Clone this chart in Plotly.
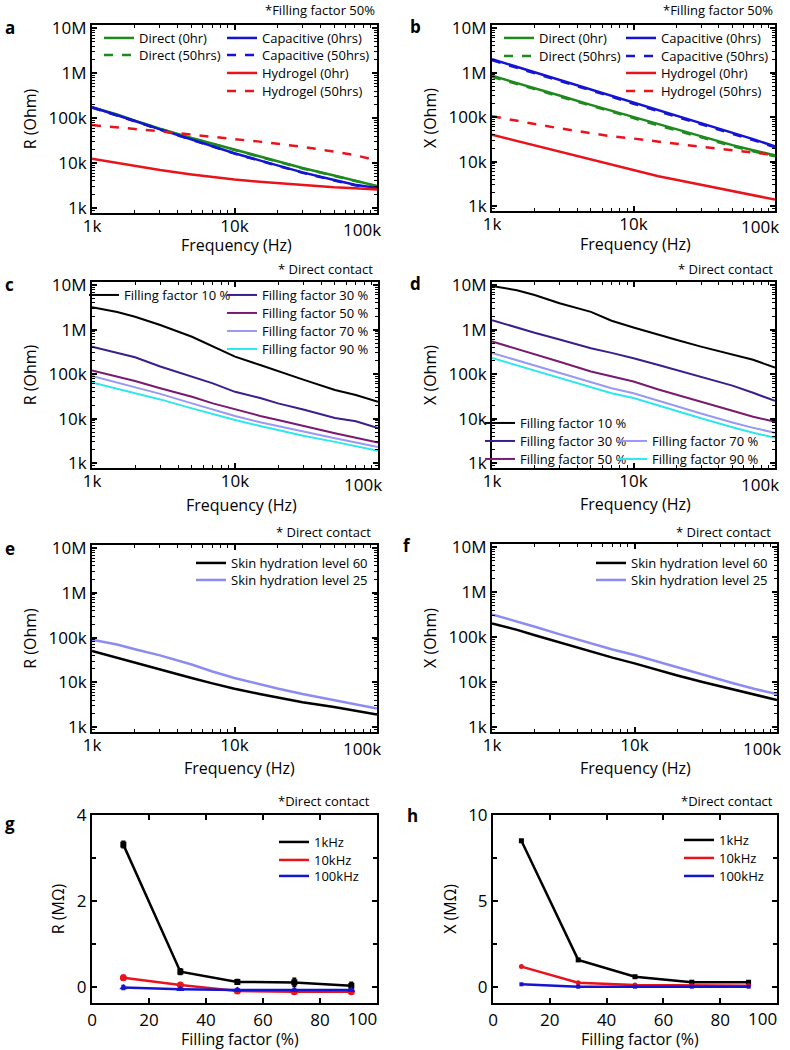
import plotly.graph_objects as go

W, H = 790, 1050
FONT = "Open Sans"

# ---------------- data ----------------
FREQ = [1000, 1500, 2000, 3000, 5000, 7000, 10000, 15000, 20000, 30000, 50000, 70000, 100000]

# panel a: R (Ohm), filling factor 50%
A_DIRECT_0 = [175e3, 120e3, 88e3, 58e3, 36e3, 27e3, 20e3, 14e3, 11e3, 7.8e3, 5.3e3, 4.1e3, 3.1e3]
A_DIRECT_50 = [170e3, 117e3, 86e3, 57e3, 35.5e3, 26.5e3, 19.6e3, 13.7e3, 10.8e3, 7.6e3, 5.2e3, 4.0e3, 3.05e3]
A_CAP_0 = [175e3, 118e3, 86e3, 56e3, 33e3, 23e3, 16.5e3, 11.5e3, 8.8e3, 6.2e3, 4.2e3, 3.3e3, 2.8e3]
A_CAP_50 = [172e3, 116e3, 85e3, 55e3, 32.5e3, 22.7e3, 16.2e3, 11.3e3, 8.7e3, 6.1e3, 4.1e3, 3.2e3, 2.7e3]
A_HYD_0 = [12.5e3, 10e3, 8.6e3, 7e3, 5.6e3, 4.9e3, 4.3e3, 3.85e3, 3.6e3, 3.2e3, 2.9e3, 2.75e3, 2.6e3]
A_HYD_50 = [70e3, 63e3, 58e3, 51e3, 43e3, 38e3, 34e3, 30e3, 27e3, 23e3, 18e3, 15e3, 11.5e3]

# panel b: X (Ohm), filling factor 50%
B_DIRECT_0 = [850e3, 590e3, 450e3, 305e3, 188e3, 138e3, 100e3, 69e3, 53e3, 37e3, 23.5e3, 18e3, 13.8e3]
B_DIRECT_50 = [800e3, 560e3, 425e3, 290e3, 178e3, 131e3, 95e3, 65e3, 50e3, 35e3, 22.3e3, 17e3, 13.2e3]
B_CAP_0 = [2.0e6, 1.35e6, 1.02e6, 0.69e6, 0.42e6, 0.3e6, 0.21e6, 0.142e6, 0.107e6, 72e3, 44e3, 32e3, 22e3]
B_CAP_50 = [1.9e6, 1.29e6, 0.97e6, 0.66e6, 0.4e6, 0.287e6, 0.2e6, 0.136e6, 0.102e6, 69e3, 42e3, 30.5e3, 21e3]
B_HYD_0 = [40e3, 29e3, 23.5e3, 17e3, 11.5e3, 8.6e3, 6.4e3, 4.7e3, 3.9e3, 3.0e3, 2.15e3, 1.75e3, 1.4e3]
B_HYD_50 = [105e3, 82e3, 70e3, 56e3, 43e3, 37e3, 33e3, 28e3, 25e3, 21.5e3, 18e3, 16e3, 14e3]

# panel c: R (Ohm) vs filling factor, direct contact
C_FF10 = [3.2e6, 2.5e6, 1.95e6, 1.27e6, 690e3, 415e3, 247e3, 160e3, 115e3, 75e3, 44e3, 34e3, 24e3]
C_FF30 = [415e3, 295e3, 240e3, 148e3, 88e3, 62e3, 40e3, 29e3, 22e3, 16e3, 10.3e3, 8.7e3, 6.1e3]
C_FF50 = [120e3, 87e3, 70e3, 48e3, 31e3, 22e3, 16e3, 11.5e3, 9.3e3, 6.8e3, 4.7e3, 3.7e3, 2.9e3]
C_FF70 = [91e3, 65e3, 52e3, 36e3, 22e3, 16e3, 11.5e3, 8.3e3, 6.8e3, 5e3, 3.6e3, 2.9e3, 2.3e3]
C_FF90 = [65e3, 47e3, 38e3, 27e3, 17e3, 12.5e3, 9.3e3, 6.8e3, 5.5e3, 4.1e3, 3e3, 2.4e3, 1.9e3]

# panel d: X (Ohm) vs filling factor, direct contact
D_FF10 = [9.5e6, 7.7e6, 6.0e6, 3.9e6, 2.5e6, 1.58e6, 1.12e6, 760e3, 590e3, 415e3, 270e3, 210e3, 140e3]
D_FF30 = [1.63e6, 1.1e6, 0.85e6, 0.6e6, 0.38e6, 0.3e6, 0.228e6, 0.16e6, 0.125e6, 88e3, 55e3, 38e3, 25e3]
D_FF50 = [540e3, 370e3, 280e3, 190e3, 115e3, 88e3, 68e3, 45e3, 35e3, 24e3, 15e3, 11e3, 8.5e3]
D_FF70 = [300e3, 205e3, 155e3, 105e3, 64e3, 48e3, 37e3, 25e3, 19e3, 13e3, 8.2e3, 6.2e3, 4.8e3]
D_FF90 = [230e3, 158e3, 120e3, 81e3, 50e3, 37e3, 29e3, 19.5e3, 15e3, 10.2e3, 6.4e3, 4.8e3, 3.7e3]

# panel e: R (Ohm) vs skin hydration
E_HYD60 = [50e3, 35e3, 28e3, 19e3, 12.5e3, 9.5e3, 7.2e3, 5.5e3, 4.6e3, 3.6e3, 2.8e3, 2.3e3, 1.9e3]
E_HYD25 = [90e3, 70e3, 55e3, 40e3, 25e3, 17.5e3, 12.5e3, 9e3, 7.3e3, 5.5e3, 4e3, 3.2e3, 2.6e3]

# panel f: X (Ohm) vs skin hydration
F_HYD60 = [200e3, 145e3, 110e3, 75e3, 47e3, 35e3, 26e3, 18e3, 14e3, 10e3, 6.8e3, 5.2e3, 4e3]
F_HYD25 = [320e3, 225e3, 170e3, 115e3, 72e3, 53e3, 40e3, 27.5e3, 21e3, 14.5e3, 9.3e3, 7e3, 5.4e3]

# panel g: R (MOhm) vs filling factor
G_FF = [11, 31, 51, 71, 91]
G_1K = [3.31, 0.35, 0.11, 0.10, 0.02]
G_1K_ERR = [0.07, 0.06, 0.05, 0.09, 0.08]
G_10K = [0.21, 0.04, -0.10, -0.12, -0.12]
G_10K_ERR = [0.05, 0.03, 0.02, 0.02, 0.02]
G_100K = [-0.02, -0.06, -0.08, -0.08, -0.08]
G_100K_ERR = [0.04, 0.02, 0.02, 0.02, 0.02]

# panel h: X (MOhm) vs filling factor
H_FF = [10, 30, 50, 70, 90]
H_1K = [8.5, 1.56, 0.58, 0.26, 0.26]
H_10K = [1.17, 0.23, 0.10, 0.06, 0.06]
H_100K = [0.14, 0.0, 0.0, 0.0, 0.0]

X_TICKVALS = [1e3, 1e4, 1e5]
X_TICKTEXT = ["1k", "10k", "100k"]
Y_TICKVALS = [1e3, 1e4, 1e5, 1e6, 1e7]
Y_TICKTEXT = ["1k", "10k", "100k", "1M", "10M"]
FF_TICKVALS = [0, 20, 40, 60, 80, 100]
FF_TICKTEXT = ["0", "20", "40", "60", "80", "100"]

GREEN = "#1e8a1e"
BLUE = "#1414d2"
RED = "#e8141c"
BLACK = "#000000"
INDIGO = "#3b1d8c"
MAGENTA = "#7a1a6e"
LAVENDER = "#9a98f0"
CYAN = "#2ee6ec"
HYD25 = "#8c8cf0"


def PX(p):
    return p / W


def PY(p):
    return 1 - p / H


# panel frames in window pixels: (left, right, top, bottom)
FRAMES = {
    1: (92, 377, 25, 213),
    2: (492, 775, 25, 211),
    3: (92, 378, 282, 468),
    4: (492, 775, 282, 468),
    5: (92, 377, 545, 732),
    6: (492, 777, 544, 732),
    7: (92, 377, 815, 1003),
    8: (493, 777, 815, 1003),
}

fig = go.Figure()
layout = {}
leg_count = [0]


def ax(n):
    return ("x" if n == 1 else f"x{n}"), ("y" if n == 1 else f"y{n}")


def new_legend(tx, ty):
    leg_count[0] += 1
    k = "legend" if leg_count[0] == 1 else f"legend{leg_count[0]}"
    layout[k] = dict(x=PX(tx - 41), y=PY(ty - 15), xanchor="left", yanchor="top",
                     bgcolor="rgba(0,0,0,0)", borderwidth=0,
                     font=dict(family=FONT, size=13, color="black"))
    return k


def add_line(n, x, y, name, color, pos, dash="solid", width=2.5):
    xa, ya = ax(n)
    fig.add_trace(go.Scatter(x=x, y=y, mode="lines", name=name, xaxis=xa, yaxis=ya,
                             line=dict(color=color, width=width, dash=dash),
                             legend=new_legend(*pos)))


# panel a
add_line(1, FREQ, A_DIRECT_0, "Direct (0hr)", GREEN, (140, 38))
add_line(1, FREQ, A_DIRECT_50, "Direct (50hrs)", GREEN, (140, 55), "dash")
add_line(1, FREQ, A_CAP_0, "Capacitive (0hrs)", BLUE, (263, 38))
add_line(1, FREQ, A_CAP_50, "Capacitive (50hrs)", BLUE, (263, 55), "dash")
add_line(1, FREQ, A_HYD_0, "Hydrogel (0hr)", RED, (263, 73))
add_line(1, FREQ, A_HYD_50, "Hydrogel (50hrs)", RED, (263, 91), "dash")

# panel b
add_line(2, FREQ, B_DIRECT_0, "Direct (0hr)", GREEN, (540, 38))
add_line(2, FREQ, B_DIRECT_50, "Direct (50hrs)", GREEN, (540, 56), "dash")
add_line(2, FREQ, B_CAP_0, "Capacitive (0hrs)", BLUE, (662, 38))
add_line(2, FREQ, B_CAP_50, "Capacitive (50hrs)", BLUE, (662, 56), "dash")
add_line(2, FREQ, B_HYD_0, "Hydrogel (0hr)", RED, (662, 73))
add_line(2, FREQ, B_HYD_50, "Hydrogel (50hrs)", RED, (662, 91), "dash")

# panel c
add_line(3, FREQ, C_FF10, "Filling factor 10 %", BLACK, (125, 295), width=2)
add_line(3, FREQ, C_FF30, "Filling factor 30 %", INDIGO, (263, 295), width=2)
add_line(3, FREQ, C_FF50, "Filling factor 50 %", MAGENTA, (263, 313), width=2)
add_line(3, FREQ, C_FF70, "Filling factor 70 %", LAVENDER, (263, 331), width=2)
add_line(3, FREQ, C_FF90, "Filling factor 90 %", CYAN, (263, 349), width=2)

# panel d
add_line(4, FREQ, D_FF10, "Filling factor 10 %", BLACK, (521, 423), width=2)
add_line(4, FREQ, D_FF30, "Filling factor 30 %", INDIGO, (521, 441), width=2)
add_line(4, FREQ, D_FF50, "Filling factor 50 %", MAGENTA, (521, 459), width=2)
add_line(4, FREQ, D_FF70, "Filling factor 70 %", LAVENDER, (653, 441), width=2)
add_line(4, FREQ, D_FF90, "Filling factor 90 %", CYAN, (653, 459), width=2)

# panel e
add_line(5, FREQ, E_HYD60, "Skin hydration level 60", BLACK, (232, 563))
add_line(5, FREQ, E_HYD25, "Skin hydration level 25", HYD25, (232, 580))

# panel f
add_line(6, FREQ, F_HYD60, "Skin hydration level 60", BLACK, (632, 563))
add_line(6, FREQ, F_HYD25, "Skin hydration level 25", HYD25, (632, 580))


def add_pts(n, x, y, err, name, color, symbol, size, pos):
    xa, ya = ax(n)
    ey = dict(type="data", array=err, color=color, thickness=2, width=2) if err else None
    fig.add_trace(go.Scatter(x=x, y=y, mode="lines+markers", name=name, xaxis=xa, yaxis=ya,
                             line=dict(color=color, width=2.5),
                             marker=dict(symbol=symbol, size=size, color=color),
                             error_y=ey, showlegend=False))
    # line-only legend entry
    fig.add_trace(go.Scatter(x=[None], y=[None], mode="lines", name=name, xaxis=xa, yaxis=ya,
                             line=dict(color=color, width=2.5), legend=new_legend(*pos)))


add_pts(7, G_FF, G_1K, G_1K_ERR, "1kHz", BLACK, "square", 6, (315, 842))
add_pts(7, G_FF, G_10K, G_10K_ERR, "10kHz", RED, "circle", 7, (315, 860))
add_pts(7, G_FF, G_100K, G_100K_ERR, "100kHz", BLUE, "triangle-up", 7, (315, 876))

add_pts(8, H_FF, H_1K, None, "1kHz", BLACK, "square", 5, (720, 840))
add_pts(8, H_FF, H_10K, None, "10kHz", RED, "circle", 5, (720, 858))
add_pts(8, H_FF, H_100K, None, "100kHz", BLUE, "square", 4, (720, 876))

# ---------------- axes ----------------
base = dict(showline=True, linecolor="black", linewidth=2, mirror="ticks",
            ticks="inside", ticklen=5, tickwidth=1.5, tickcolor="black",
            showgrid=False, zeroline=False, automargin=False, ticklabeloverflow="allow",
            tickfont=dict(family=FONT, size=17, color="black"))
minor_log = dict(ticks="inside", ticklen=3, tickwidth=1, tickcolor="black", dtick="D1", showgrid=False)
TFONT = dict(family=FONT, size=16, color="black")
TKFONT = dict(family=FONT, size=17, color="black")

ann = []
YTITLES = {1: "R (Ohm)", 2: "X (Ohm)", 3: "R (Ohm)", 4: "X (Ohm)", 5: "R (Ohm)", 6: "X (Ohm)",
           7: "R (MΩ)", 8: "X (MΩ)"}
for n, (l, r, t, b) in FRAMES.items():
    xa = "xaxis" if n == 1 else f"xaxis{n}"
    ya = "yaxis" if n == 1 else f"yaxis{n}"
    xn, yn = ax(n)
    xdom = [PX(l), PX(r)]
    ydom = [PY(b), PY(t)]
    if n <= 6:
        tv, tt = X_TICKVALS, X_TICKTEXT
    else:
        tv, tt = FF_TICKVALS, FF_TICKTEXT
    # last x tick label is drawn a little inside the frame, as in the original
    shown = list(tt[:-1]) + [""]
    ann.append(dict(text=tt[-1], x=PX(r - 15), y=PY(b + (16 if n <= 6 else 15)), xref="paper", yref="paper",
                    xanchor="center", yanchor="middle", showarrow=False, font=TKFONT))
    if n <= 6:
        layout[xa] = dict(base, type="log", range=[3, 5.0], domain=xdom, anchor=yn,
                          tickvals=tv, ticktext=shown, minor=minor_log, ticklabelstandoff=-3)
        layout[ya] = dict(base, type="log", range=[2.89, 7.07], domain=ydom, anchor=xn,
                          tickvals=Y_TICKVALS, ticktext=Y_TICKTEXT, minor=minor_log,
                          title=dict(text=YTITLES[n], font=TFONT, standoff=8))
    else:
        layout[xa] = dict(base, range=[0, 100], domain=xdom, anchor=yn, tickmode="array",
                          tickvals=tv, ticktext=shown, ticklabelstandoff=1)
        if n == 7:
            yr, dt, md = [-0.38, 4.0], 2, 1
        else:
            yr, dt, md = [-0.95, 10.0], 5, 2.5
        layout[ya] = dict(base, range=yr, domain=ydom, anchor=xn, tickmode="linear", tick0=0, dtick=dt,
                          minor=dict(ticks="inside", ticklen=4, tickwidth=1.5, tickcolor="black", dtick=md, tick0=0),
                          title=dict(text=YTITLES[n], font=TFONT, standoff=8))

# ---------------- annotations ----------------
XTITLES = [("Frequency (Hz)", 236, 245), ("Frequency (Hz)", 635, 244),
           ("Frequency (Hz)", 241, 505), ("Frequency (Hz)", 635, 504),
           ("Frequency (Hz)", 239, 768), ("Frequency (Hz)", 635, 768),
           ("Filling factor (%)", 240, 1039), ("Filling factor (%)", 640, 1039)]
for txt, x, y in XTITLES:
    ann.append(dict(text=txt, x=PX(x), y=PY(y), xref="paper", yref="paper",
                    xanchor="center", yanchor="middle", showarrow=False, font=TFONT))
LETTERS = [("a", 3, 28), ("b", 408, 27), ("c", 3, 285), ("d", 408, 283),
           ("e", 3, 548), ("f", 401, 545), ("g", 3, 823), ("h", 405, 815)]
for txt, x, y in LETTERS:
    ann.append(dict(text=f"<b>{txt}</b>", x=PX(x), y=PY(y), xref="paper", yref="paper",
                    xanchor="left", yanchor="middle", showarrow=False,
                    font=dict(family=FONT, size=17, color="black")))
NOTES = [("*Filling factor 50%", 377, 10), ("*Filling factor 50%", 775, 10),
         ("* Direct contact", 375, 269), ("* Direct contact", 775, 269),
         ("* Direct contact", 373, 532), ("* Direct contact", 773, 532),
         ("*Direct contact", 372, 801), ("*Direct contact", 775, 801)]
for txt, x, y in NOTES:
    ann.append(dict(text=txt, x=PX(x), y=PY(y), xref="paper", yref="paper",
                    xanchor="right", yanchor="middle", showarrow=False,
                    font=dict(family=FONT, size=13, color="black")))

fig.update_layout(
    width=W, height=H, margin=dict(l=0, r=0, t=0, b=0, autoexpand=False),
    paper_bgcolor="white", plot_bgcolor="white",
    font=dict(family=FONT, color="black"),
    annotations=ann, **layout
)

fig.write_html("out.html", config={"displayModeBar": False},
               post_script="document.body.style.margin='0px';document.body.style.overflow='hidden';")
